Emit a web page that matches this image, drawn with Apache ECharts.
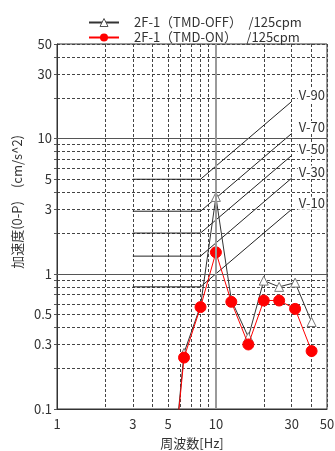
<!DOCTYPE html>
<html>
<head>
<meta charset="utf-8">
<script src="https://cdn.jsdelivr.net/npm/echarts@6/dist/echarts.min.js"></script>
<style>html,body{margin:0;padding:0;background:#fff}#c{width:335px;height:451px}</style>
</head>
<body>
<div id="c"></div>
<script>
// ---- data ----
var freq = [5, 6.3, 8, 10, 12.5, 16, 20, 25, 31.5, 40];
var tmdOff = [0.015, 0.26, 0.58, 3.7, 0.64, 0.34, 0.89, 0.8, 0.86, 0.44];
var tmdOn  = [0.015, 0.24, 0.567, 1.44, 0.62, 0.3, 0.634, 0.634, 0.55, 0.268];
var seriesNames = ['2F-1\uFF08TMD-OFF\uFF09\u3000/125cpm', '2F-1\uFF08TMD-ON\uFF09\u3000 /125cpm'];

var vFreq = [3, 8, 30];
var vCurves = [
  { name: 'V-90', values: [5, 5, 18.8] },
  { name: 'V-70', values: [2.9, 2.9, 10.9] },
  { name: 'V-50', values: [2, 2, 7.5] },
  { name: 'V-30', values: [1.35, 1.35, 5.1] },
  { name: 'V-10', values: [0.8, 0.8, 3.0] }
];

var xGrid = [1, 2, 3, 4, 5, 6, 7, 8, 9, 10, 20, 30, 40, 50];
var xLabels = [1, 3, 5, 10, 30, 50];
var yGrid = [0.1, 0.2, 0.3, 0.4, 0.5, 0.6, 0.7, 0.8, 0.9, 1, 2, 3, 4, 5, 6, 7, 8, 9, 10, 20, 30, 40, 50];
var yLabels = [0.1, 0.3, 0.5, 1, 3, 5, 10, 30, 50];
var ySolid = [10, 1];
var xSolid = [10];

var FONT = 'Noto Sans CJK JP';
var chart = echarts.init(document.getElementById('c'), null, { renderer: 'canvas' });

var zip = function (xs, ys) { return xs.map(function (x, i) { return [x, ys[i]]; }); };

var series = [];
// background solid reference lines
series.push({
  type: 'line', data: [], silent: true, z: 1,
  markLine: {
    silent: true, symbol: 'none', animation: false,
    label: { show: false },
    data: ySolid.map(function (v) { return { yAxis: v, lineStyle: { color: '#555', width: 1, type: 'solid' } }; })
      .concat(xSolid.map(function (v) { return { xAxis: v, lineStyle: { color: '#9a9a9a', width: 2, type: 'solid' } }; }))
  }
});
vCurves.forEach(function (c) {
  series.push({
    type: 'line', name: c.name, data: zip(vFreq, c.values), showSymbol: false, symbol: 'none',
    silent: true, z: 2, animation: false,
    lineStyle: { color: '#222', width: 1 },
    endLabel: {
      show: true, formatter: c.name, color: '#333', fontSize: 13, fontFamily: FONT,
      offset: [-2, -6], backgroundColor: '#fff', padding: [0, 1]
    }
  });
});
series.push({
  type: 'line', name: seriesNames[0], data: zip(freq, tmdOff), z: 3, animation: false,
  symbol: 'triangle', symbolSize: 9,
  lineStyle: { color: '#333', width: 1 },
  itemStyle: { color: '#fff', borderColor: '#777', borderWidth: 1 }
});
series.push({
  type: 'line', name: seriesNames[1], data: zip(freq, tmdOn), z: 4, animation: false,
  symbol: 'circle', symbolSize: 11,
  lineStyle: { color: '#ff0000', width: 1 },
  itemStyle: { color: '#ff0000', borderColor: '#ff0000' }
});

var legendBase = {
  left: 88, itemWidth: 30, itemHeight: 10, padding: 0,
  textStyle: { fontSize: 13, color: '#333', fontFamily: FONT, padding: [0, 0, 0, 10] }
};

chart.setOption({
  animation: false,
  textStyle: { fontFamily: FONT },
  grid: { left: 57, right: 8, top: 44, bottom: 42, outerBoundsMode: 'none', containLabel: false,
    show: true, borderColor: '#333', borderWidth: 1, backgroundColor: 'transparent' },
  legend: [
    Object.assign({}, legendBase, { top: 16, data: [{ name: seriesNames[0], itemStyle: { color: '#fff', borderColor: '#555', borderWidth: 1 } }] }),
    Object.assign({}, legendBase, { top: 31, data: [{ name: seriesNames[1] }] })
  ],
  xAxis: {
    type: 'log', logBase: 10, min: 1, max: 50,
    name: '周波数[Hz]', nameLocation: 'middle', nameGap: 28,
    nameTextStyle: { fontSize: 13, color: '#333', fontFamily: FONT },
    axisLine: { lineStyle: { color: '#333' } },
    axisTick: { show: false, customValues: xGrid },
    axisLabel: { customValues: xLabels, fontSize: 13, color: '#333', margin: 9, fontFamily: FONT },
    splitLine: { show: true, lineStyle: { color: '#444', type: [3, 2], width: 1 } },
    minorTick: { show: false }
  },
  yAxis: {
    type: 'log', logBase: 10, min: 0.1, max: 50,
    axisLine: { lineStyle: { color: '#333' } },
    axisTick: { show: true, length: 3, customValues: yGrid, lineStyle: { color: '#555' } },
    axisLabel: { customValues: yLabels, fontSize: 13, color: '#333', margin: 5, fontFamily: FONT },
    splitLine: { show: true, lineStyle: { color: '#444', type: [3, 2], width: 1 } }
  },
  graphic: [{
    type: 'text', left: 11, top: 135, rotation: Math.PI / 2,
    style: { text: '加速度(0-P)\u3000(cm/s^2)', fontSize: 13, fill: '#333', fontFamily: FONT }
  }],
  series: series
});
</script>
</body>
</html>
